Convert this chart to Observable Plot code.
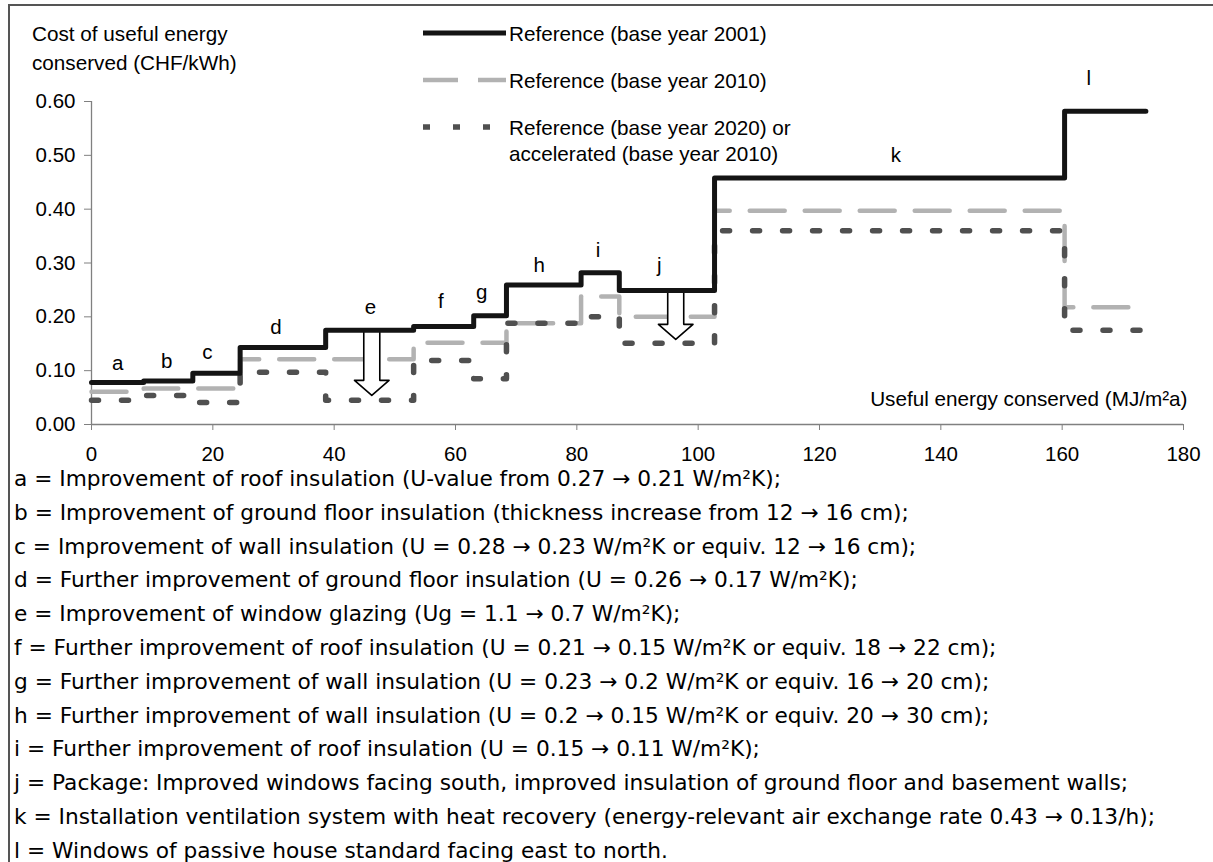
<!DOCTYPE html>
<html>
<head>
<meta charset="utf-8">
<script src="https://cdn.jsdelivr.net/npm/d3@7"></script>
<script src="https://cdn.jsdelivr.net/npm/@observablehq/plot@0.6"></script>
<style>
  body { margin: 0; background: #fff; }
  #fig { position: relative; width: 1213px; height: 862px; overflow: hidden;
         font-family: "Liberation Sans", Arial, sans-serif; color: #000; background: #fff; }
  #frame { position: absolute; left: 8px; top: 4px; right: 0; bottom: 0;
           border-top: 2px solid #555; border-left: 2px solid #555; pointer-events: none; }
  #chart { position: absolute; left: 0; top: 0; }
  #ytitle { position: absolute; left: 32px; top: 19px; font-size: 20.7px; line-height: 29px; }
  #legend { position: absolute; left: 0; top: 0; }
  #notes { position: absolute; left: 14px; top: 462px;
           font-family: "DejaVu Sans", Verdana, sans-serif;
           font-size: 21.7px; line-height: 33.8px; white-space: nowrap; }
  #chart g[aria-label$="tick"] { stroke: #808080; }
  #chart g[aria-label="x-axis"] .tick line, #chart g[aria-label="y-axis"] .tick line { stroke: #808080; }
</style>
</head>
<body>
<div id="fig">
  <div id="chart"></div>
  <div id="ytitle">Cost of useful energy<br>conserved (CHF/kWh)</div>
  <svg id="legend" width="1213" height="180"></svg>
  <div id="notes"></div>
  <div id="frame"></div>
</div>
<script>
// Step boundaries along the x axis (MJ/m²a) and the measure behind each step
const steps = [0, 8.6, 16.7, 24.5, 38.6, 53.1, 63, 68.4, 80.7, 87, 102.7, 160.4, 173.8];
const measures = ["a", "b", "c", "d", "e", "f", "g", "h", "i", "j", "k", "l"];

// Cost of useful energy conserved (CHF/kWh) for each measure
const ref2001 = [0.078, 0.081, 0.095, 0.143, 0.175, 0.182, 0.202, 0.259, 0.282, 0.249, 0.458, 0.582];
const ref2010 = [0.061, 0.067, 0.067, 0.121, 0.121, 0.152, 0.152, 0.188, 0.238, 0.200, 0.397, 0.218];
const ref2020 = [0.045, 0.054, 0.041, 0.097, 0.045, 0.119, 0.085, 0.188, 0.200, 0.151, 0.360, 0.175];

// Letter annotations
const labelX = [4.3, 12.4, 19.1, 30.4, 46, 57.6, 64.3, 73.8, 83.5, 93.6, 132.6, 164.4];
const labelY = [0.113, 0.117, 0.133, 0.181, 0.217, 0.228, 0.246, 0.296, 0.324, 0.296, 0.499, 0.643];

// Downward arrows showing the cost reduction of measures e and j
const arrowX = [46.2, 96.3];
const arrowTop = [0.175, 0.249];
const arrowTip = [0.054, 0.158];

// Axis ticks
const xTicks = [0, 20, 40, 60, 80, 100, 120, 140, 160, 180];
const yTicks = [0, 0.1, 0.2, 0.3, 0.4, 0.5, 0.6];

// Series names and line styles
const seriesNames = [
  ["Reference (base year 2001)"],
  ["Reference (base year 2010)"],
  ["Reference (base year 2020) or", "accelerated (base year 2010)"]
];
const seriesStyle = [
  {stroke: "#141414", strokeWidth: 5, dash: null},
  {stroke: "#b2b2b2", strokeWidth: 4.5, dash: "35,20"},
  {stroke: "#505050", strokeWidth: 5.5, dash: "7,23"}
];

// Measure descriptions listed under the chart
const notes = [
  "a = Improvement of roof insulation (U-value from 0.27 → 0.21 W/m²K);",
  "b = Improvement of ground floor insulation (thickness increase from 12 → 16 cm);",
  "c = Improvement of wall insulation (U = 0.28 → 0.23 W/m²K or equiv. 12 → 16 cm);",
  "d = Further improvement of ground floor insulation (U = 0.26 → 0.17 W/m²K);",
  "e = Improvement of window glazing (Ug = 1.1 → 0.7 W/m²K);",
  "f = Further improvement of roof insulation (U = 0.21 → 0.15 W/m²K or equiv. 18 → 22 cm);",
  "g = Further improvement of wall insulation (U = 0.23 → 0.2 W/m²K or equiv. 16 → 20 cm);",
  "h = Further improvement of wall insulation (U = 0.2 → 0.15 W/m²K or equiv. 20 → 30 cm);",
  "i = Further improvement of roof insulation (U = 0.15 → 0.11 W/m²K);",
  "j = Package: Improved windows facing south, improved insulation of ground floor and basement walls;",
  "k = Installation ventilation system with heat recovery (energy-relevant air exchange rate 0.43 → 0.13/h);",
  "l = Windows of passive house standard facing east to north."
];

// Turn a list of per-measure values into step-after points
function stepPoints(values) {
  const pts = values.map((v, i) => ({x: steps[i], y: v}));
  pts.push({x: steps[steps.length - 1], y: values[values.length - 1]});
  return pts;
}

// Block arrow outlines (shaft and head widths in x units, head length in y units)
const shaftHalf = 1.32, headHalf = 2.85, headLen = 0.028;
const arrowPoly = arrowX.flatMap((x, i) => {
  const t = arrowTop[i], p = arrowTip[i], h = p + headLen;
  return [
    [x - shaftHalf, t], [x + shaftHalf, t], [x + shaftHalf, h], [x + headHalf, h],
    [x, p], [x - headHalf, h], [x - shaftHalf, h]
  ].map(([ax, ay]) => ({x: ax, y: ay, k: i}));
});

const lineMark = (vals, st) => Plot.line(stepPoints(vals), {
  x: "x", y: "y", curve: "step-after",
  stroke: st.stroke, strokeWidth: st.strokeWidth,
  strokeDasharray: st.dash || undefined
});

const chart = Plot.plot({
  width: 1213,
  height: 470,
  marginLeft: 91,
  marginRight: 30,
  marginTop: 101,
  marginBottom: 46,
  style: {fontFamily: "'Liberation Sans', Arial, sans-serif", fontSize: "20.5px", color: "#000", background: "transparent"},
  x: {domain: [0, 180], ticks: xTicks, tickSize: 6, tickPadding: 16, tickFormat: d => String(d), label: null},
  y: {domain: [0, 0.6], ticks: yTicks, tickSize: 7, tickPadding: 9, tickFormat: d3.format(".2f"), label: null},
  marks: [
    Plot.ruleY([0], {stroke: "#808080", strokeWidth: 1.3}),
    Plot.ruleX([0], {stroke: "#808080", strokeWidth: 1.3}),
    lineMark(ref2010, seriesStyle[1]),
    lineMark(ref2020, seriesStyle[2]),
    Plot.line(arrowPoly, {x: "x", y: "y", z: "k", curve: "linear-closed",
      fill: "white", stroke: "black", strokeWidth: 1.6}),
    lineMark(ref2001, seriesStyle[0]),
    Plot.text(measures, {x: (d, i) => labelX[i], y: (d, i) => labelY[i], text: d => d,
      fontSize: 20.5, fill: "black"}),
    Plot.text(["Useful energy conserved (MJ/m²a)"], {frameAnchor: "bottom-right",
      textAnchor: "end", dx: 4, dy: -19, fontSize: 20.7, fill: "black"})
  ]
});
document.getElementById("chart").appendChild(chart);

// Legend drawn over the top margin
const legend = d3.select("#legend");
const rowY = [33, 80, 127];
seriesNames.forEach((name, i) => {
  const st = seriesStyle[i];
  legend.append("line")
    .attr("x1", 423).attr("x2", 506).attr("y1", rowY[i]).attr("y2", rowY[i])
    .attr("stroke", st.stroke).attr("stroke-width", st.strokeWidth)
    .attr("stroke-dasharray", st.dash);
  const t = legend.append("text")
    .attr("x", 509).attr("y", rowY[i])
    .attr("font-family", "'Liberation Sans', Arial, sans-serif")
    .attr("font-size", 20.7).attr("dominant-baseline", "central");
  name.forEach((line, j) => {
    t.append("tspan").attr("x", 509).attr("dy", j === 0 ? 0 : 26).text(line);
  });
});

// Measure descriptions
d3.select("#notes").selectAll("div").data(notes).join("div").text(d => d);
</script>
</body>
</html>
